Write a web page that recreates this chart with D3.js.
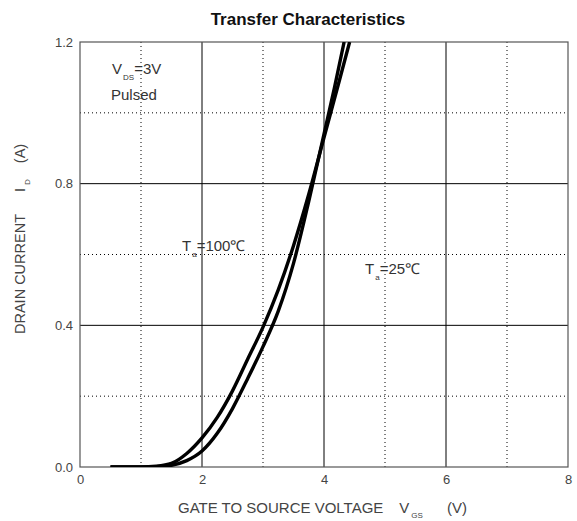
<!DOCTYPE html>
<html><head><meta charset="utf-8">
<script src="https://cdn.jsdelivr.net/npm/d3@7"></script>
<style>body{margin:0;background:#fff}text{font-family:"Liberation Sans",Arial,sans-serif}</style>
</head><body>
<svg id="c" width="577" height="521"></svg>
<script>
const xTicks = [0, 2, 4, 6, 8];
const yTicks = [0.0, 0.4, 0.8, 1.2];
const xMinor = [1, 3, 5, 7];
const yMinor = [0.2, 0.6, 1.0];
const vgs100 = [0.5, 1.0, 1.25, 1.5, 1.75, 2.0, 2.25, 2.5, 2.75, 3.0, 3.25, 3.5, 3.75, 4.0, 4.25, 4.42];
const id100  = [0, 0, 0.002, 0.01, 0.038, 0.082, 0.14, 0.215, 0.305, 0.395, 0.5, 0.625, 0.77, 0.93, 1.09, 1.2];
const vgs25  = [0.5, 1.0, 1.25, 1.5, 1.75, 2.0, 2.25, 2.5, 2.75, 3.0, 3.25, 3.5, 3.75, 4.0, 4.17, 4.33];
const id25   = [0, 0, 0.001, 0.005, 0.018, 0.045, 0.095, 0.165, 0.25, 0.34, 0.44, 0.575, 0.75, 0.94, 1.07, 1.2];

const svg = d3.select("#c");
const x = d3.scaleLinear().domain([0, 8]).range([80, 568]);
const y = d3.scaleLinear().domain([0, 1.2]).range([467, 42]);
const g = svg.append("g");
const FONT = "Liberation Sans, Arial, sans-serif";

// minor dotted grid
g.selectAll(".vx").data(xMinor).join("line")
  .attr("x1", d => x(d)).attr("x2", d => x(d)).attr("y1", y(1.2)).attr("y2", y(0))
  .attr("stroke", "#000").attr("stroke-width", 1).attr("stroke-dasharray", "1,3");
g.selectAll(".hy").data(yMinor).join("line")
  .attr("x1", x(0)).attr("x2", x(8)).attr("y1", d => y(d)).attr("y2", d => y(d))
  .attr("stroke", "#000").attr("stroke-width", 1).attr("stroke-dasharray", "1,3");
// major solid grid
g.selectAll(".mx").data(xTicks.slice(1, -1)).join("line")
  .attr("x1", d => x(d)).attr("x2", d => x(d)).attr("y1", y(1.2)).attr("y2", y(0))
  .attr("stroke", "#000").attr("stroke-width", 1);
g.selectAll(".my").data(yTicks.slice(1, -1)).join("line")
  .attr("x1", x(0)).attr("x2", x(8)).attr("y1", d => y(d)).attr("y2", d => y(d))
  .attr("stroke", "#000").attr("stroke-width", 1);
// frame
g.append("rect").attr("x", x(0)).attr("y", y(1.2)).attr("width", x(8) - x(0)).attr("height", y(0) - y(1.2))
  .attr("fill", "none").attr("stroke", "#555").attr("stroke-width", 1.2);

// tick labels via d3 axes
const xa = svg.append("g").attr("transform", `translate(0,${y(0)})`)
  .call(d3.axisBottom(x).tickValues(xTicks).tickFormat(d3.format("d")).tickSize(0).tickPadding(8));
const ya = svg.append("g").attr("transform", `translate(${x(0)},0)`)
  .call(d3.axisLeft(y).tickValues(yTicks).tickFormat(d3.format(".1f")).tickSize(0).tickPadding(7));
[xa, ya].forEach(a => { a.select(".domain").remove(); a.selectAll("text").attr("font-size", 13).attr("fill", "#444").attr("font-family", FONT); });

// curves
svg.append("clipPath").attr("id", "cp").append("rect")
  .attr("x", x(0)).attr("y", y(1.2)).attr("width", x(8) - x(0)).attr("height", y(0) - y(1.2));
const line = d3.line().x(d => x(d[0])).y(d => y(d[1])).curve(d3.curveMonotoneX);
[[vgs100, id100], [vgs25, id25]].forEach(([vx, vy]) => {
  svg.append("path").datum(vx.map((v, i) => [v, vy[i]]))
    .attr("d", line).attr("fill", "none").attr("stroke", "#000").attr("stroke-width", 3.4)
    .attr("clip-path", "url(#cp)");
});

// title
svg.append("text").attr("x", 308).attr("y", 25).attr("text-anchor", "middle")
  .attr("font-size", 17).attr("font-weight", "bold").attr("fill", "#111").text("Transfer Characteristics");

function sub(xx, yy, main, s, rest) {
  const tx = svg.append("text").attr("x", xx).attr("y", yy).attr("font-size", 15).attr("fill", "#333");
  tx.append("tspan").text(main);
  tx.append("tspan").attr("font-size", 8).attr("dy", 6).attr("dx", 1).text(s);
  tx.append("tspan").attr("dy", -6).text(rest);
  return tx;
}
sub(112, 74, "V", "DS", "=3V");
svg.append("text").attr("x", 111).attr("y", 100).attr("font-size", 15).attr("fill", "#333").text("Pulsed");
sub(182, 251, "T", "a", "=100\u2103");
sub(365, 274, "T", "a", "=25\u2103");

// x axis title
const xt = svg.append("text").attr("x", 178).attr("y", 513).attr("font-size", 15).attr("fill", "#444");
xt.append("tspan").text("GATE TO SOURCE VOLTAGE");
xt.append("tspan").attr("dx", 16).text("V");
xt.append("tspan").attr("font-size", 8).attr("dy", 5).attr("dx", 2).text("GS");
xt.append("tspan").attr("dy", -5).attr("dx", 24).text("(V)");

// y axis title
const yt = svg.append("text").attr("transform", "translate(25,334) rotate(-90)").attr("font-size", 14.5).attr("fill", "#444");
yt.append("tspan").text("DRAIN CURRENT");
yt.append("tspan").attr("dx", 22).text("I");
yt.append("tspan").attr("font-size", 8).attr("dy", 5).attr("dx", 3).text("D");
yt.append("tspan").attr("dy", -5).attr("dx", 16).text("(A)");
</script>
</body></html>
